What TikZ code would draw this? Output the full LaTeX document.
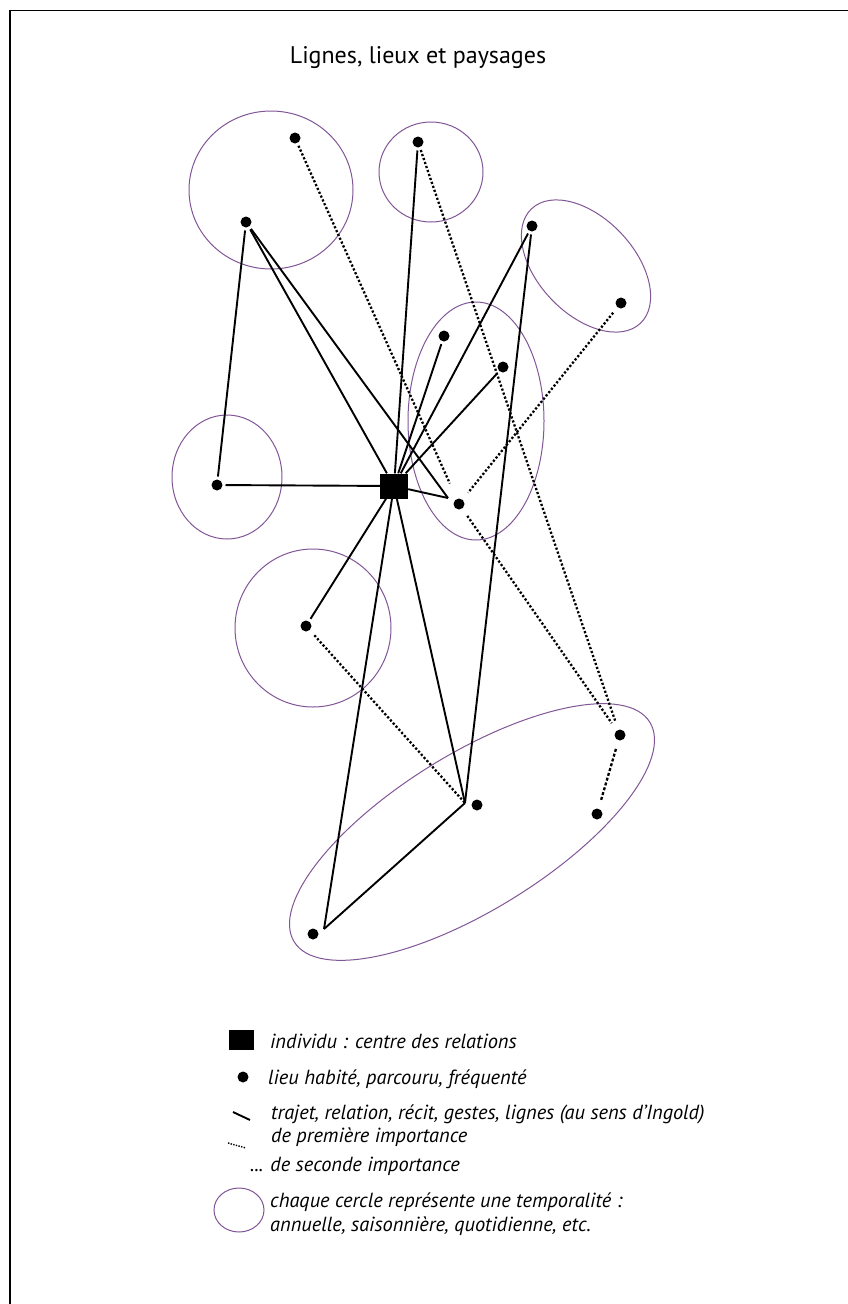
\documentclass[tikz,border=0pt]{standalone}
\usepackage{fontspec}
\setmainfont{PT Sans}
\definecolor{tempo}{RGB}{128,86,150}
\begin{document}
\begin{tikzpicture}[x=1pt,y=1pt,
 placedot/.style={circle,fill=black,inner sep=0pt,minimum size=11pt,outer sep=3pt},
 hub/.style={rectangle,fill=black,inner sep=0pt,minimum width=28pt,minimum height=25pt},
 major/.style={line width=1.9pt},
 minor/.style={line width=2.3pt,dash pattern=on 2.2pt off 2pt},
 tempring/.style={draw=tempo,line width=1pt},
 lgtext/.style={anchor=base west,inner sep=0pt,font=\itshape\fontsize{20.4}{24}\selectfont}]
\useasboundingbox (0,0) rectangle (848,-1304);
\draw[line width=1.7pt] (10,-1304) -- (10,-10.5) -- (848,-10.5);

\node[anchor=base,inner sep=0pt,font=\fontsize{24}{28}\selectfont] (title) at (418,-63) {Lignes, lieux et paysages};

% temporalities
\draw[tempring] (271,-190) ellipse [x radius=82,y radius=79];
\draw[tempring] (431,-172) ellipse [x radius=52,y radius=50];
\draw[tempring,rotate around={-46.4:(586,-266)}] (586,-266) ellipse [x radius=79,y radius=48];
\draw[tempring] (476,-421) ellipse [x radius=68,y radius=119];
\draw[tempring] (227,-477) ellipse [x radius=55,y radius=62];
\draw[tempring] (313,-628) ellipse [x radius=78,y radius=79];
\draw[tempring,rotate around={31.7:(472,-832)}] (472,-832) ellipse [x radius=209,y radius=78];

% places
\node[placedot] (A) at (295,-138) {};
\node[placedot] (B) at (246,-222) {};
\node[placedot] (C) at (418,-142) {};
\node[placedot] (D) at (532,-226) {};
\node[placedot] (E) at (621,-303) {};
\node[placedot] (F) at (444,-336) {};
\node[placedot] (G) at (503,-367) {};
\node[placedot] (H) at (217,-485) {};
\node[hub] (S) at (394,-486) {};
\node[placedot] (I) at (459,-504) {};
\node[placedot] (J) at (306,-626) {};
\node[placedot] (K) at (620,-735) {};
\node[placedot] (L) at (477,-805) {};
\node[placedot] (M) at (597,-814) {};
\node[placedot] (N) at (313,-934) {};
\coordinate (Ij) at (448,-498);
\coordinate (Lj) at (465,-803);
\coordinate (Nj) at (324,-929);

% major lines
\draw[major] (H) -- (S);
\draw[major] (B) -- (H);
\draw[major] (B) -- (S);
\draw[major] (B) -- (Ij);
\draw[major] (S) -- (Ij);
\draw[major] (C) -- (S);
\draw[major] (F) -- (S);
\draw[major] (D) -- (S);
\draw[major] (G) -- (S);
\draw[major] (D) -- (Lj);
\draw[major] (S) -- (J);
\draw[major] (S) -- (Nj);
\draw[major] (S) -- (Lj);
\draw[major] (Lj) -- (Nj);

% minor lines
\draw[minor,shorten >=14pt] (A) -- (I);
\draw[minor,shorten >=6pt] (C) -- (K);
\draw[minor,shorten <=4pt,shorten >=6pt] (E) -- (I);
\draw[minor,shorten <=6pt,shorten >=6pt] (I) -- (K);
\draw[minor,shorten <=4pt] (J) -- (Lj);
\draw[minor,dash pattern=on 3pt off 2pt,shorten <=6pt,shorten >=6pt] (K) -- (M);

% legend
\node[hub,minimum width=25pt,minimum height=20pt] (lgS) at (241,-1040) {};
\node[placedot] (lgD) at (243,-1077) {};
\coordinate (lgL1) at (233,-1112);
\coordinate (lgL2) at (250,-1120);
\draw[major] (lgL1) -- (lgL2);
\coordinate (lgM1) at (228,-1143);
\coordinate (lgM2) at (246,-1148);
\draw[line width=1.4pt,dash pattern=on 1.4pt off 1.3pt] (lgM1) -- (lgM2);
\draw[tempring] (239,-1210) ellipse [x radius=25,y radius=22];

\node[lgtext] (t1) at (270,-1048) {individu : centre des relations};
\node[lgtext] (t2) at (268,-1084) {lieu habité, parcouru, fréquenté};
\node[lgtext] (t3) at (271,-1119) {trajet, relation, récit, gestes, lignes (au sens d’Ingold)};
\node[lgtext] (t4) at (271,-1142) {de première importance};
\node[lgtext] (t5) at (250,-1171) {... de seconde importance};
\node[lgtext] (t6) at (270,-1207) {chaque cercle représente une temporalité :};
\node[lgtext] (t7) at (270,-1231) {annuelle, saisonnière, quotidienne, etc.};
\end{tikzpicture}
\end{document}
